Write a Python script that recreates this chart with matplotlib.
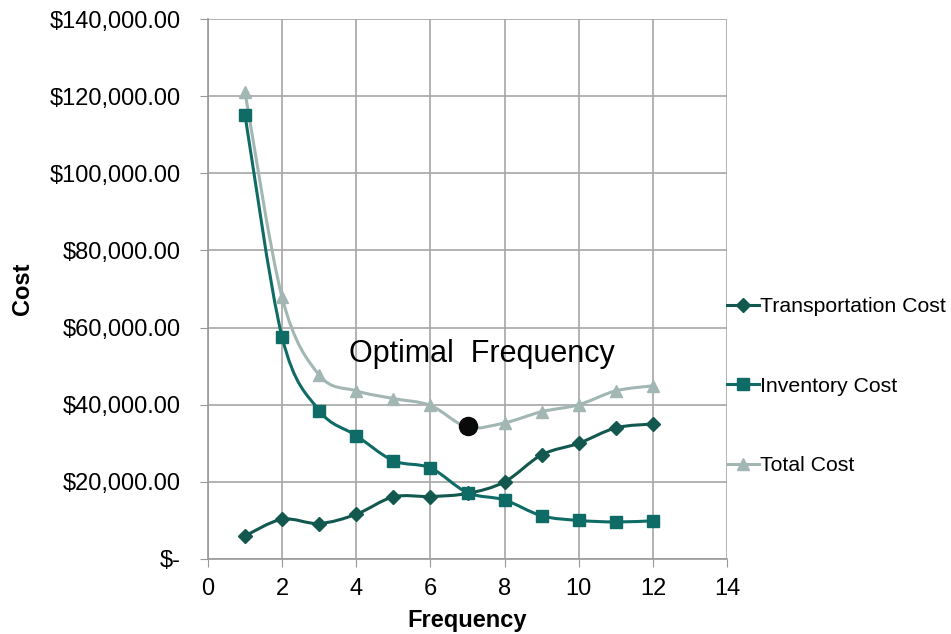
import numpy as np
import matplotlib.pyplot as plt
from matplotlib.path import Path
from matplotlib.patches import PathPatch
from matplotlib.lines import Line2D
from matplotlib.ticker import FuncFormatter

plt.rcParams['font.family'] = ['Liberation Sans', 'DejaVu Sans']

# Data
frequency = [1, 2, 3, 4, 5, 6, 7, 8, 9, 10, 11, 12]
transport_cost = [6000, 10300, 9200, 11600, 16100, 16200, 17000, 20000, 27000, 30000, 34000, 35000]
inventory_cost = [115000, 57500, 38500, 32000, 25500, 23600, 17200, 15300, 11200, 10000, 9600, 9900]
total_cost = [121000, 67800, 47700, 43600, 41600, 39800, 34200, 35300, 38200, 40000, 43600, 44900]
optimal_x = 7
optimal_y = 34500

c_trans = '#12584f'
c_inv = '#0f6b66'
c_total = '#a2b7b3'


def smooth_path(xs, ys):
    # Excel-style smoothed line: Catmull-Rom segments as cubic Beziers
    xs = np.asarray(xs, float)
    ys = np.asarray(ys, float)
    n = len(xs)
    verts = [(xs[0], ys[0])]
    codes = [Path.MOVETO]
    t = 1 / 6
    for i in range(n - 1):
        x0, y0 = (xs[i - 1], ys[i - 1]) if i > 0 else (xs[i], ys[i])
        x3, y3 = (xs[i + 2], ys[i + 2]) if i + 2 < n else (xs[i + 1], ys[i + 1])
        c1 = (xs[i] + (xs[i + 1] - x0) * t, ys[i] + (ys[i + 1] - y0) * t)
        c2 = (xs[i + 1] - (x3 - xs[i]) * t, ys[i + 1] - (y3 - ys[i]) * t)
        verts += [c1, c2, (xs[i + 1], ys[i + 1])]
        codes += [Path.CURVE4] * 3
    return Path(verts, codes)


fig = plt.figure(figsize=(9.51, 6.34), dpi=100)
ax = fig.add_axes([0.2187, 0.1183, 0.5458, 0.8517])

series = [
    (transport_cost, c_trans, 'D', 7, 'Transportation Cost'),
    (inventory_cost, c_inv, 's', 9, 'Inventory Cost'),
    (total_cost, c_total, '^', 9, 'Total Cost'),
]
handles = []
for ys, col, mk, ms, lab in series:
    ax.add_patch(PathPatch(smooth_path(frequency, ys), facecolor='none',
                           edgecolor=col, lw=2.2, zorder=3))
    ax.plot(frequency, ys, ls='none', marker=mk, ms=ms, color=col, zorder=4)
    handles.append(Line2D([], [], color=col, lw=2.2, marker=mk, ms=ms, label=lab))

ax.plot(optimal_x, optimal_y, 'o', ms=13, color='#0a0a0a', zorder=5)
ax.text(7.4, 53200, 'Optimal  Frequency', fontsize=22, ha='center', va='center')

ax.set_xlim(0, 14)
ax.set_ylim(0, 140000)
ax.set_xticks(range(0, 15, 2))
ax.set_yticks(range(0, 140001, 20000))
ax.yaxis.set_major_formatter(FuncFormatter(lambda v, p: '$-' if v == 0 else f'${v:,.2f}'))
ax.tick_params(labelsize=17, colors='#000000', length=5.5, color='#9a9a9a')
ax.tick_params(axis='y', pad=14)
ax.tick_params(axis='x', pad=8)
ax.grid(True, color='#a6a6a6', lw=1.2)
ax.set_axisbelow(True)
for s in ['top', 'right']:
    ax.spines[s].set_visible(False)
for s in ['left', 'bottom']:
    ax.spines[s].set_color('#9a9a9a')
    ax.spines[s].set_linewidth(1.2)

ax.set_xlabel('Frequency', fontsize=17, fontweight='bold', labelpad=7)
ax.set_ylabel('Cost', fontsize=17, fontweight='bold', labelpad=11)

fig.legend(handles=handles, loc='center left', bbox_to_anchor=(0.756, 0.391),
           frameon=False, fontsize=15.3, handlelength=1.5, handletextpad=0.05,
           labelspacing=2.85, borderaxespad=0)

fig.savefig('out.png', dpi=100)
